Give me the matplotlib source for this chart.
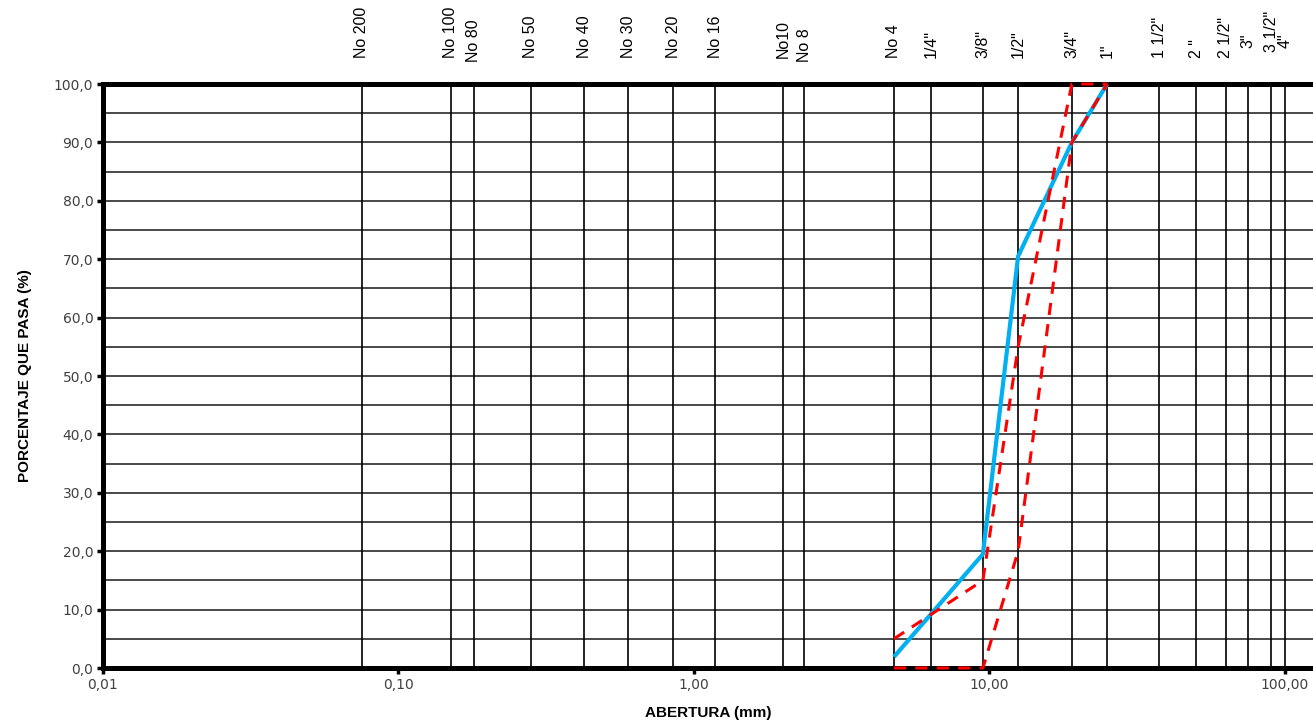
import numpy as np
import matplotlib
matplotlib.use("Agg")
from matplotlib import pyplot as plt
from matplotlib.ticker import FixedLocator, FuncFormatter

# sieve openings (mm) and their names
sieve_names = ['No 200', 'No 100', 'No 80', 'No 50', 'No 40', 'No 30', 'No 20', 'No 16',
               'No10', 'No 8', 'No 4', '1/4"', '3/8"', '1/2"', '3/4"', '1"',
               '1 1/2"', '2 "', '2 1/2"', '3"', '3 1/2"', '4"']
sieve_mm = [0.075, 0.15, 0.18, 0.28, 0.425, 0.6, 0.85, 1.18,
            2.0, 2.36, 4.75, 6.35, 9.5, 12.5, 19.0, 25.0,
            37.5, 50.0, 63.0, 75.0, 90.0, 100.0]
# small vertical shifts (points) of the sieve names, as drawn
name_shift = [0, 0, -3, 0, 0, 0, 0, 0, 0, -3, 0, 0, 0, 0, 0, 0,
              0, 0, 0, 7, 4, 7]

# sample curve
muestra_mm = [4.75, 9.5, 12.5, 19.0, 25.0]
muestra_pasa = [1.9, 19.5, 70.5, 90.0, 100.0]

# specification limits (ASTM C33 size 6)
sup_mm = [4.75, 9.5, 12.5, 19.0, 25.0]
sup_pasa = [5.0, 15.0, 55.0, 100.0, 100.0]
inf_mm = [4.75, 9.5, 12.5, 19.0, 25.0]
inf_pasa = [0.0, 0.0, 20.0, 90.0, 100.0]

fig = plt.figure(figsize=(13.13, 7.25), dpi=100)
ax = fig.add_axes([103/1313, 1 - 668/725, 1 - 103/1313, (668 - 84)/725])

ax.set_xscale('log')
ax.set_xlim(0.01, 124.4)
ax.set_ylim(0, 100)

#horizontal grid every 5
for yv in np.arange(5, 100, 5):
    ax.axhline(yv, color='#2a2a2a', lw=1.2, zorder=1)

#vertical sieve lines
for s in sieve_mm:
    ax.axvline(s, color='black', lw=1.2, zorder=1)

ax.plot(muestra_mm, muestra_pasa, color='#00B0F0', lw=3.0, zorder=4,
        solid_capstyle='butt', clip_on=False)
ax.plot(sup_mm, sup_pasa, color='#FF0000', lw=2.2, ls=(0, (4, 3)), zorder=5, clip_on=False)
ax.plot(inf_mm, inf_pasa, color='#FF0000', lw=2.2, ls=(0, (4, 3)), zorder=5, clip_on=False)

#sieve names on top
for name, s, sh in zip(sieve_names, sieve_mm, name_shift):
    ax.annotate(name, xy=(s, 1.0), xycoords=('data', 'axes fraction'),
                xytext=(0, 19 + sh), textcoords='offset points',
                rotation=90, ha='center', va='bottom',
                fontsize=11.5, family=['Liberation Sans', 'DejaVu Sans'])

#spines
for side in ['left', 'top', 'bottom']:
    ax.spines[side].set_linewidth(3.6)
    ax.spines[side].set_zorder(3)
ax.spines['right'].set_visible(False)

ax.xaxis.set_major_locator(FixedLocator([0.01, 0.1, 1, 10, 100]))
ax.xaxis.set_minor_locator(FixedLocator([]))
ax.xaxis.set_major_formatter(FuncFormatter(lambda v, p: ('%.2f' % v).replace('.', ',')))
ax.yaxis.set_major_locator(FixedLocator(np.arange(0, 101, 10)))
ax.yaxis.set_major_formatter(FuncFormatter(lambda v, p: ('%.1f' % v).replace('.', ',')))
ax.tick_params(axis='both', direction='out', length=4, width=2.5,
               labelsize=10, labelcolor='#404040', pad=3)

ax.set_xlabel('ABERTURA (mm)', fontsize=11, fontweight='bold',
              family=['Liberation Sans Narrow', 'Liberation Sans', 'DejaVu Sans'], labelpad=10)
ax.set_ylabel('PORCENTAJE QUE PASA (%)', fontsize=11, fontweight='bold',
              family=['Liberation Sans Narrow', 'Liberation Sans', 'DejaVu Sans'], labelpad=16)

fig.savefig('out.png', dpi=100)
